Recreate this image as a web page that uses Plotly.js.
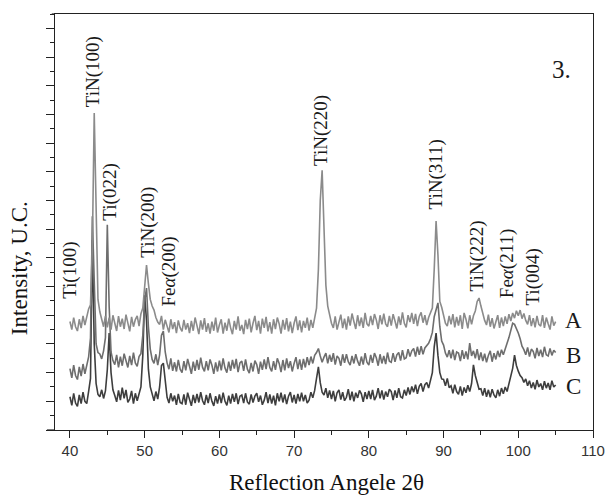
<!DOCTYPE html>
<html>
<head>
<meta charset="utf-8">
<script src="https://cdn.plot.ly/plotly-3.0.1.min.js"></script>
<style>html,body{margin:0;padding:0;background:#fff;}#chart{width:605px;height:499px;}</style>
</head>
<body>
<div id="chart"></div>
<script>
// 2θ grid: first angle and step (degrees)
const angleStart = 40;
const angleStep = 0.25;

// Intensity (arbitrary counts), one value every 0.25° from 40° to 105°
const seriesA = [
  378,350,392,360, 345,386,355,398, 366,400,422,436, 640,1105,700,455,
  412,380,360,398, 358,392,350,400, 372,345,397,360, 388,352,402,366,
  344,394,360,385, 398,362,405,425, 505,575,510,455, 432,418,392,376,
  368,398,350,384, 362,340,386,352, 376,338,382,356, 344,384,350,372,
  338,380,346,392, 364,334,382,350, 390,342,372,336, 378,346,392,340,
  366,386,336,374, 346,388,356,334, 380,350,396,346, 366,334,384,352,
  388,340,372,398, 348,380,336,388, 356,394,344,376, 336,386,352,392,
  370,336,384,350, 390,344,378,338, 372,396,348,382, 340,380,356,392,
  346,384,356,390, 425,560,800,905, 700,505,432,398, 372,356,396,350,
  380,402,355,388, 350,396,364,406, 378,352,400,362, 392,356,408,370,
  362,398,366,404, 384,352,400,368, 406,370,360,398, 364,404,380,354,
  396,366,410,372, 358,400,376,408, 370,405,362,396, 410,374,400,366,
  392,408,425,560, 728,610,448,428, 400,372,362,398, 368,404,358,394,
  364,400,352,408, 386,354,400,368, 398,415,448,460, 432,404,382,366,
  402,360,390,354, 374,400,356,392, 362,396,370,404, 380,408,390,416,
  398,418,388,406, 382,368,400,362, 390,358,398,368, 362,400,356,392,
  370,350,396,364, 378
];
const seriesB = [
  214,182,226,190, 176,220,188,230, 196,228,255,320, 745,520,300,270,
  265,248,276,322, 715,430,272,242, 228,262,218,256, 224,266,236,218,
  258,226,270,234, 222,256,266,330, 450,495,360,282, 246,232,264,226,
  262,330,345,272, 234,212,250,206, 236,204,244,212, 200,240,208,248,
  222,196,238,206, 244,210,252,218, 204,240,208,246, 226,196,236,204,
  242,208,250,216, 200,238,206,244, 214,248,202,234, 240,206,246,212,
  198,234,204,242, 228,196,238,210, 246,212,254,218, 204,240,210,250,
  232,202,244,208, 250,216,240,204, 232,254,212,246, 210,248,218,254,
  226,256,232,260, 270,284,258,236, 254,268,232,262, 238,268,228,258,
  250,224,264,234, 264,238,226,258, 232,264,240,224, 256,228,268,236,
  226,262,234,268, 252,224,264,232, 258,230,270,240, 236,268,238,262,
  270,242,278,248, 252,282,256,276, 284,256,290,262, 292,264,286,294,
  302,318,340,395, 425,443,360,310, 296,268,254,278, 250,280,244,272,
  268,240,278,248, 274,246,303,258, 276,250,282,244, 270,240,266,236,
  260,276,238,268, 246,276,254,280, 262,286,302,322, 345,372,368,355,
  338,318,292,280, 262,288,256,282, 274,250,286,258, 280,254,290,262,
  258,284,260,278, 270
];
const seriesC = [
  116,86,128,94, 82,122,92,132, 100,92,135,180, 662,300,162,124,
  116,140,110,136, 210,338,200,140, 120,98,138,104, 148,110,140,96,
  108,136,92,128, 102,132,150,260, 470,380,212,150, 120,102,134,108,
  150,225,233,160, 114,94,128,100, 120,88,126,96, 92,124,88,130,
  104,84,122,94, 126,96,132,102, 88,122,94,128, 100,84,118,92,
  124,94,130,100, 86,120,92,126, 98,128,90,118, 122,94,128,98,
  90,124,96,118, 128,98,120,88, 104,132,94,124, 92,120,86,128,
  100,130,96,124, 90,118,132,96, 122,92,126,100, 130,100,122,94,
  104,132,112,138, 180,220,165,132, 122,146,112,138, 108,136,100,130,
  140,106,132,102, 114,142,104,134, 100,130,112,138, 126,98,132,108,
  136,108,140,104, 118,146,110,138, 106,134,116,142, 134,104,138,112,
  146,116,112,140, 120,148,124,152, 132,158,126,152, 162,134,158,166,
  146,170,200,290, 338,260,200,178, 176,154,180,148, 154,128,158,134,
  124,152,120,148, 130,156,134,162, 227,190,165,142, 144,120,146,116,
  140,114,142,122, 112,140,118,146, 126,150,134,165, 185,215,261,225,
  205,190,182,166, 178,154,172,146, 166,142,174,150, 162,140,170,146,
  164,140,172,150, 157
];

// Peak labels: text, angle (2θ), intensity of label centre
const peakLabels = ["Ti(100)","TiN(100)","Ti(022)","TiN(200)","Fe<i>α</i>(200)","TiN(220)","TiN(311)","TiN(222)","Fe<i>α</i>(211)","Ti(004)"];
const peakLabelX = [40.0, 43.2, 45.33, 50.4, 53.2, 73.6, 88.93, 94.53, 98.53, 102.0];
const peakLabelY = [558, 1250, 830, 725, 551, 1042, 889, 606, 579, 532];

// Curve labels
const curveNames = ["A","B","C"];
const curveLabelX = [107.33, 107.33, 107.33];
const curveLabelY = [383, 261, 153];

const xTickVals = [40,50,60,70,80,90,100,110];
const xTickText = ["40","50","60","70","80","90","100","110"];

const serif = "Liberation Serif, Times New Roman, serif";

const traces = [
  {y: seriesC, name: "C", color: "#3e3e3e"},
  {y: seriesB, name: "B", color: "#6e6e6e"},
  {y: seriesA, name: "A", color: "#8b8b8b"}
].map(s => ({
  type: "scatter", mode: "lines",
  x0: angleStart, dx: angleStep, y: s.y, name: s.name,
  line: {color: s.color, width: 1.6},
  hoverinfo: "skip"
}));

const annotations = [];
peakLabels.forEach((t, i) => annotations.push({
  x: peakLabelX[i], y: peakLabelY[i], xref: "x", yref: "y",
  text: t, showarrow: false, textangle: -90,
  xanchor: "center", yanchor: "middle",
  font: {family: serif, size: 19, color: "#1a1a1a"}
}));
curveNames.forEach((t, i) => annotations.push({
  x: curveLabelX[i], y: curveLabelY[i], xref: "x", yref: "y",
  text: t, showarrow: false, xanchor: "center", yanchor: "middle",
  font: {family: serif, size: 23, color: "#1a1a1a"}
}));
annotations.push({
  x: 105.73, y: 1255, xref: "x", yref: "y", text: "3.", showarrow: false,
  xanchor: "center", yanchor: "middle",
  font: {family: serif, size: 25, color: "#1a1a1a"}
});
annotations.push({
  x: -0.067, y: 0.389, xref: "paper", yref: "paper", text: "Intensity, U.C.",
  showarrow: false, textangle: -90, xanchor: "center", yanchor: "middle",
  font: {family: serif, size: 23, color: "#111"}
});
annotations.push({
  x: 0.504, y: -0.125, xref: "paper", yref: "paper", text: "Reflection Angele 2θ",
  showarrow: false, xanchor: "center", yanchor: "middle",
  font: {family: serif, size: 23, color: "#111"}
});

const layout = {
  width: 605, height: 499,
  margin: {l: 55, r: 12, t: 14, b: 69, pad: 0},
  paper_bgcolor: "#fff", plot_bgcolor: "#fff",
  showlegend: false,
  xaxis: {
    range: [38, 110], tickmode: "array", tickvals: xTickVals, ticktext: xTickText,
    ticks: "outside", ticklen: 7, tickwidth: 1, tickcolor: "#222",
    minor: {dtick: 5, tick0: 40, ticks: "outside", ticklen: 4, tickcolor: "#222", showgrid: false},
    showline: true, linecolor: "#222", linewidth: 1.2, mirror: true,
    showgrid: false, zeroline: false,
    tickfont: {family: "Liberation Sans, Arial, sans-serif", size: 15, color: "#333"}
  },
  yaxis: {
    range: [0, 1450], tick0: 0, dtick: 100,
    ticks: "outside", ticklen: 8, tickwidth: 1, tickcolor: "#222",
    minor: {dtick: 50, tick0: 0, ticks: "outside", ticklen: 4, tickcolor: "#222", showgrid: false},
    showticklabels: false,
    showline: true, linecolor: "#222", linewidth: 1.2, mirror: true,
    showgrid: false, zeroline: false
  },
  shapes: [
    {type: "line", xref: "paper", yref: "paper", x0: -0.015, x1: 0, y0: 0, y1: 0,
     line: {color: "#222", width: 1.2}},
    {type: "line", xref: "paper", yref: "paper", x0: -0.006, x1: 0, y0: 1, y1: 1,
     line: {color: "#222", width: 1.2}}
  ],
  annotations: annotations
};

Plotly.newPlot("chart", traces, layout, {displayModeBar: false, staticPlot: true});
</script>
</body>
</html>
